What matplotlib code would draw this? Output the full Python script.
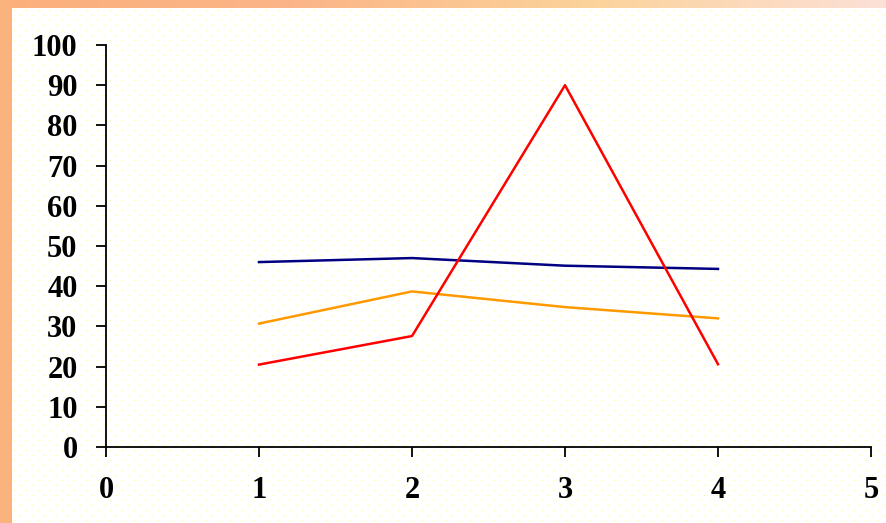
import numpy as np
import matplotlib

matplotlib.use("Agg")
import matplotlib.pyplot as plt
from matplotlib.colors import LinearSegmentedColormap

x_vals = [1, 2, 3, 4]
navy_vals = [46.0, 47.0, 45.1, 44.3]
orange_vals = [30.7, 38.7, 34.8, 32.0]
red_vals = [20.5, 27.6, 90.0, 20.6]
x_ticks = [0, 1, 2, 3, 4, 5]
y_ticks = [0, 10, 20, 30, 40, 50, 60, 70, 80, 90, 100]

W, H = 887, 523
fig = plt.figure(figsize=(W / 100, H / 100), dpi=100)
fig.patch.set_facecolor("white")

# background decoration: dotted slide, orange left border, gradient top band
bg = fig.add_axes([0, 0, 1, 1], zorder=-1)
bg.set_xlim(0, W)
bg.set_ylim(H, 0)
bg.axis("off")
gx, gy = [], []
for row, yy in enumerate(np.arange(10, H, 5)):
    off = 6 if row % 2 else 0
    for xx in np.arange(14 + off, W, 12):
        gx.append(xx)
        gy.append(yy)
bg.scatter(gx, gy, s=1.2, color="#fdfab0", linewidths=0)
band = LinearSegmentedColormap.from_list(
    "band", ["#fbb07c", "#fbb588", "#fbd39a", "#fde0d8"]
)
bg.imshow(np.linspace(0, 1, 256).reshape(1, -1), cmap=band, aspect="auto",
          extent=(0, W, 8, 0))
bg.add_patch(plt.Rectangle((0, 0), 12, H, color="#fbb37e", lw=0))

ax = fig.add_axes([106 / W, 1 - 447 / H, (871 - 106) / W, (447 - 45) / H])
ax.patch.set_alpha(0)
ax.plot(x_vals, navy_vals, color="#000080", lw=1.8)
ax.plot(x_vals, orange_vals, color="#ff9900", lw=1.8)
ax.plot(x_vals, red_vals, color="#ff0000", lw=1.8)

ax.set_xlim(0, 5)
ax.set_ylim(0, 100)
ax.set_xticks(x_ticks)
ax.set_yticks(y_ticks)
for side in ("top", "right"):
    ax.spines[side].set_visible(False)
for side in ("left", "bottom"):
    ax.spines[side].set_linewidth(1.3)
ax.tick_params(direction="out", length=7, width=1.3, colors="black")
ax.tick_params(axis="x", pad=14)
ax.tick_params(axis="y", pad=13.5)
for lab in ax.get_xticklabels() + ax.get_yticklabels():
    lab.set_fontfamily("Liberation Serif")
    lab.set_fontweight("bold")
    lab.set_fontsize(22)

fig.savefig("out.png", dpi=100)
